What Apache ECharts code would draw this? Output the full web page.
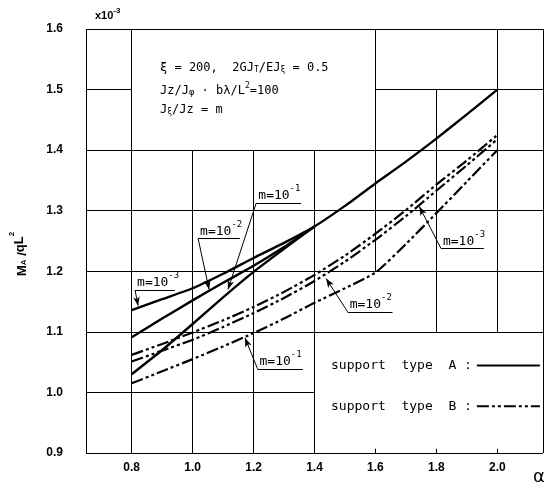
<!DOCTYPE html>
<html><head><meta charset="utf-8">
<script src="https://cdn.jsdelivr.net/npm/echarts@6/dist/echarts.min.js"></script>
<style>html,body{margin:0;padding:0;background:#fff}#c{width:548px;height:494px}</style>
</head><body><div id="c"></div>
<script>
// ---------------- data ----------------
const alphaLong  = [0.8,0.9,1.0,1.1,1.2,1.3,1.4,1.5,1.6,1.7,1.8,1.9,2.0];
const alphaShort = [0.8,0.9,1.0,1.1,1.2,1.3,1.4];
// support type A (solid)
const typeA_m3 = [1.136,1.154,1.172,1.196,1.222,1.247,1.274,1.308,1.345,1.381,1.419,1.459,1.500];
const typeA_m2 = [1.091,1.122,1.152,1.181,1.209,1.240,1.274];
const typeA_m1 = [1.030,1.070,1.113,1.157,1.199,1.237,1.274];
// support type B (dash-dot-dot)
const typeB_m3 = [1.062,1.080,1.099,1.119,1.141,1.166,1.194,1.226,1.262,1.301,1.343,1.383,1.425];
const typeB_m2 = [1.051,1.069,1.087,1.108,1.131,1.156,1.184,1.216,1.252,1.291,1.333,1.375,1.418];
const typeB_m1 = [1.015,1.035,1.055,1.076,1.098,1.122,1.148,1.172,1.198,1.245,1.296,1.348,1.400];
// tick labels
const xTicks = [0.8,1.0,1.2,1.4,1.6,1.8,2.0];
const yTicks = [0.9,1.0,1.1,1.2,1.3,1.4,1.5,1.6];
// partial grid of the original drawing: vertical [x, y1, y2], horizontal [y, x1, x2]
const gridV = [[0.65,0.9,1.6],[0.8,0.9,1.6],[1.0,0.9,1.4],[1.2,0.9,1.4],[1.4,0.9,1.4],[1.6,1.2,1.6],[1.8,1.1,1.5],[2.0,1.1,1.6],[2.15,0.9,1.6]];
const gridH = [[1.6,0.65,2.15],[1.5,0.65,0.8],[1.5,1.6,2.15],[1.4,0.65,2.15],[1.3,0.65,2.15],[1.2,0.65,2.15],[1.1,0.65,2.15],[1.0,0.65,1.4],[0.9,0.65,2.15]];
const bottomTicks = [1.6,1.8,2.0];
// annotations: [exponent, underline x1, underline x2, underline y, arrow tip x, arrow tip y]
const annotations = [
  ['-3', 0.811, 0.942, 1.169, 0.821, 1.143],
  ['-2', 1.018, 1.155, 1.254, 1.054, 1.170],
  ['-1', 1.209, 1.356, 1.313, 1.116, 1.170],
  ['-3', 1.815, 1.956, 1.238, 1.744, 1.307],
  ['-2', 1.509, 1.656, 1.133, 1.438, 1.188],
  ['-1', 1.213, 1.362, 1.039, 1.172, 1.090]
];
const NAME_A = 'support  type  A :';
const NAME_B = 'support  type  B :';
const DASH_B = [12,3,3,3,3,3];

// ---------------- chart ----------------
const zip = (xs, ys) => ys.map((y, i) => [xs[i], y]);
const chart = echarts.init(document.getElementById('c'), null, {renderer: 'canvas'});

const segs = [];
gridV.forEach(([x, y1, y2]) => segs.push([{coord: [x, y1]}, {coord: [x, y2]}]));
gridH.forEach(([y, x1, x2]) => segs.push([{coord: [x1, y]}, {coord: [x2, y]}]));
bottomTicks.forEach(x => segs.push([{coord: [x, 0.9]}, {coord: [x, 0.907]}]));
annotations.forEach(a => {
  segs.push([{coord: [a[1], a[3]]}, {coord: [a[2], a[3]]}]);
  segs.push([{coord: [a[1], a[3]], symbol: 'none'}, {coord: [a[4], a[5]], symbol: 'arrow', symbolSize: [5, 9]}]);
});

const solid = {color: '#000', width: 2.4, type: 'solid'};
const dashed = {color: '#000', width: 2.2, type: DASH_B};
const base = {type: 'line', symbol: 'none', smooth: 0.2, silent: true, emphasis: {disabled: true}, color: '#000'};

const option = {
  animation: false,
  backgroundColor: '#fff',
  grid: {left: 86, top: 29, width: 457, height: 424},
  xAxis: {
    type: 'value', min: 0.65, max: 2.15,
    axisLine: {show: false}, axisTick: {show: false}, splitLine: {show: false},
    axisLabel: {customValues: xTicks, formatter: v => v.toFixed(1), margin: 9,
      color: '#000', fontFamily: 'Liberation Sans', fontWeight: 'bold', fontSize: 12}
  },
  yAxis: {
    type: 'value', min: 0.9, max: 1.6,
    axisLine: {show: false}, axisTick: {show: false}, splitLine: {show: false},
    axisLabel: {customValues: yTicks, formatter: v => v.toFixed(1), margin: 23,
      color: '#000', fontFamily: 'Liberation Sans', fontWeight: 'bold', fontSize: 12}
  },
  legend: {
    data: [NAME_A, NAME_B], orient: 'vertical', left: 331, top: 359, align: 'right',
    itemWidth: 63, itemHeight: 14, itemGap: 27.7, padding: 0, selectedMode: false,
    itemStyle: {opacity: 0},
    textStyle: {fontFamily: 'DejaVu Sans Mono', fontSize: 13, color: '#000'}
  },
  series: [
    Object.assign({}, base, {name: NAME_A, data: zip(alphaLong, typeA_m3), lineStyle: solid,
      markLine: {silent: true, symbol: ['none', 'none'], label: {show: false}, emphasis: {disabled: true},
        lineStyle: {color: '#000', width: 1, type: 'solid'}, data: segs}}),
    Object.assign({}, base, {name: NAME_A, data: zip(alphaShort, typeA_m2), lineStyle: solid}),
    Object.assign({}, base, {name: NAME_A, data: zip(alphaShort, typeA_m1), lineStyle: solid}),
    Object.assign({}, base, {name: NAME_B, data: zip(alphaLong, typeB_m3), lineStyle: dashed}),
    Object.assign({}, base, {name: NAME_B, data: zip(alphaLong, typeB_m2), lineStyle: dashed}),
    Object.assign({}, base, {name: NAME_B, data: zip(alphaLong, typeB_m1), lineStyle: dashed})
  ]
};
chart.setOption(option);

// ---------------- texts (positioned through the chart's coordinate system) ----------------
const ctx = document.createElement('canvas').getContext('2d');
function tw(t, font) { ctx.font = font; return ctx.measureText(t).width; }
function runs(parts, fam, size, wt) {
  let x = 0; const children = [];
  parts.forEach(p => {
    const s = p.s || size;
    const font = (p.w || wt || 'normal') + ' ' + s + 'px "' + fam + '"';
    children.push({type: 'text', x: x, y: (p.dy || 0), silent: true,
      style: {text: p.t, font: font, fill: '#000', align: 'left', verticalAlign: 'middle'}});
    x += tw(p.t, font);
  });
  return {children, width: x};
}
const P = (x, y) => chart.convertToPixel({gridIndex: 0}, [x, y]);
const graphics = [];

annotations.forEach(a => {
  const [px, py] = P(a[1], a[3]);
  const r = runs([{t: 'm=10'}, {t: a[0], s: 9, dy: -7}], 'DejaVu Sans Mono', 13);
  graphics.push({type: 'group', x: px + 2, y: py - 7, children: r.children});
});

const [gx0, gy0] = P(0.65, 1.6);
{
  const r = runs([{t: 'x10'}, {t: '-3', s: 8, dy: -5}], 'Liberation Sans', 11, 'bold');
  graphics.push({type: 'group', x: gx0 + 9, y: gy0 - 13, children: r.children});
}
{
  const fam = 'DejaVu Sans Mono', fs = 12;
  const l1 = runs([{t: 'ξ = 200,  2GJ'}, {t: 'T', s: 8, dy: 2}, {t: '/EJ'}, {t: 'ξ', s: 8, dy: 2}, {t: ' = 0.5'}], fam, fs);
  const l2 = runs([{t: 'Jz/J'}, {t: 'φ', s: 9, dy: 2}, {t: ' · bλ/L'}, {t: '2', s: 8, dy: -5}, {t: '=100'}], fam, fs);
  const l3 = runs([{t: 'J'}, {t: 'ξ', s: 8, dy: 2}, {t: '/Jz = m'}], fam, fs);
  graphics.push({type: 'group', x: 160, y: 68, children: l1.children});
  graphics.push({type: 'group', x: 160, y: 91, children: l2.children});
  graphics.push({type: 'group', x: 160, y: 110, children: l3.children});
}
{
  const r = runs([{t: 'M'}, {t: 'A', s: 8, dy: 2}, {t: ' /'}, {t: 'q', dy: -2}, {t: 'L', dy: -3}, {t: '2', s: 8, dy: -10}], 'Liberation Sans', 13, 'bold');
  r.children.forEach(c => c.x -= r.width / 2);
  graphics.push({type: 'group', x: 22, y: 254, rotation: Math.PI / 2, children: r.children});
}
{
  const [ax, ay] = P(2.15, 0.9);
  graphics.push({type: 'text', x: ax - 4, y: ay + 24, silent: true,
    style: {text: 'α', font: '18px "DejaVu Sans"', fill: '#000', align: 'center', verticalAlign: 'middle'}});
}
chart.setOption({graphic: graphics});
</script>
</body></html>
